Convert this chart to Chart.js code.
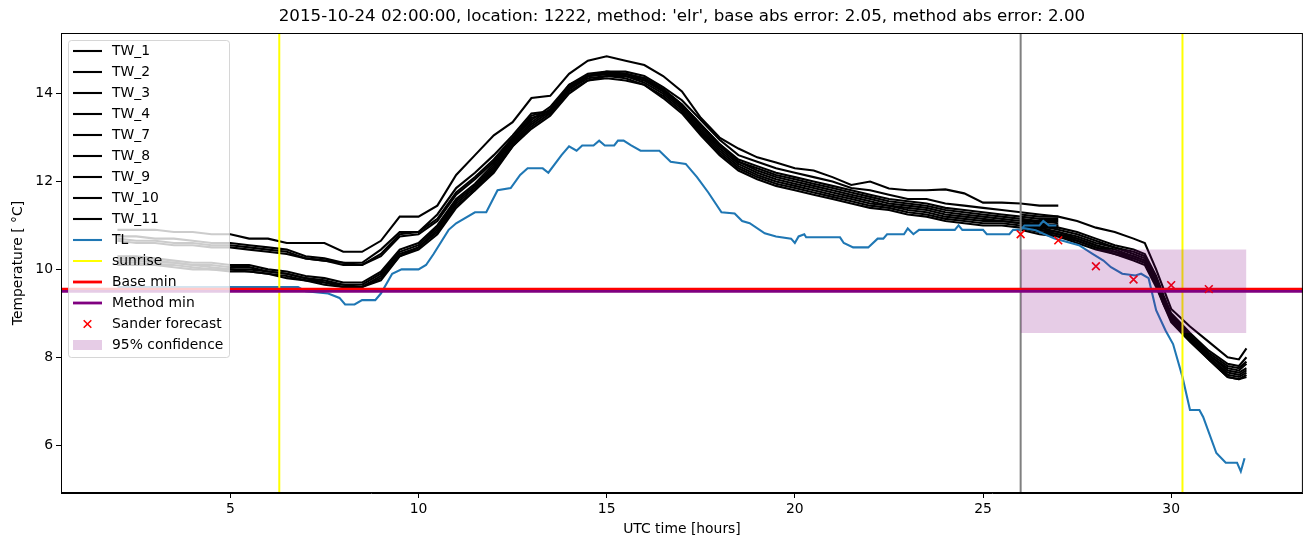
<!DOCTYPE html>
<html>
<head>
<meta charset="utf-8">
<script src="https://cdn.jsdelivr.net/npm/chart.js@4.4.0/dist/chart.umd.min.js"></script>
<style>
  html, body { margin: 0; padding: 0; background: #fff; }
  #wrap { width: 1310px; height: 547px; }
</style>
</head>
<body>
<div id="wrap"><canvas id="tempChart" width="1310" height="547"></canvas></div>
<script>
/* ---------- DATA ---------- */
const titleText = "2015-10-24 02:00:00, location: 1222, method: 'elr', base abs error: 2.05, method abs error: 2.00";

const histTimes = [2, 2.5, 3, 3.5, 4, 4.5, 5, 5.5, 6, 6.5, 7, 7.5, 8, 8.5, 9, 9.5, 10, 10.5, 11, 11.5,
  12, 12.5, 13, 13.5, 14, 14.5, 15, 15.5, 16, 16.5, 17, 17.5, 18, 18.5, 19, 19.5, 20, 20.5, 21, 21.5,
  22, 22.5, 23, 23.5, 24, 24.5, 25, 25.5, 26, 26.5, 27];
const fcTimes = [26, 26.5, 27, 27.5, 28, 28.5, 29, 29.3, 29.6, 29.8, 30, 30.5, 31, 31.5, 31.8, 32];

const tw1Hist = [10.75,10.75,10.7,10.7,10.65,10.6,10.6,10.55,10.5,10.45,
  10.3,10.25,10.15,10.15,10.45,10.85,10.85,11.25,11.85,12.2,
  12.6,13.05,13.55,13.6,14.2,14.45,14.5,14.5,14.4,14.15,
  13.85,13.4,12.95,12.6,12.45,12.3,12.2,12.1,12.0,11.85,
  11.8,11.7,11.6,11.6,11.5,11.45,11.4,11.35,11.3,11.25,11.2];
const tw1Fc = [11.15,11.05,10.95,10.85,10.7,10.55,10.45,10.35,9.85,9.4,9.0,8.55,8.15,7.85,7.8,8.0];

const tw2Hist = [10.3,10.3,10.25,10.2,10.15,10.15,10.1,10.1,10.0,9.95,
  9.85,9.8,9.7,9.7,9.95,10.45,10.6,11.0,11.6,11.95,
  12.4,12.95,13.4,13.7,14.2,14.4,14.45,14.45,14.35,14.1,
  13.75,13.3,12.85,12.45,12.25,12.1,12.0,11.9,11.8,11.7,
  11.6,11.5,11.45,11.4,11.3,11.25,11.2,11.15,11.1,11.1,11.05];
const tw2Fc = [11.0,10.9,10.85,10.7,10.55,10.45,10.3,10.2,9.7,9.3,8.9,8.45,8.05,7.7,7.65,7.75];

const tw3Hist = [10.9,10.9,10.9,10.85,10.85,10.8,10.8,10.7,10.7,10.6,
  10.6,10.6,10.4,10.4,10.65,11.2,11.2,11.45,12.15,12.6,
  13.05,13.35,13.9,13.95,14.45,14.75,14.85,14.75,14.65,14.4,
  14.05,13.45,13.0,12.75,12.55,12.43,12.3,12.25,12.1,11.92,
  12.0,11.84,11.8,11.8,11.82,11.73,11.52,11.52,11.5,11.45,11.45];
const tw3Fc = [11.25,11.2,11.2,11.1,10.95,10.85,10.7,10.6,10.0,9.55,9.1,8.7,8.35,8.0,7.95,8.2];

const tw4Hist = [10.25,10.25,10.2,10.15,10.1,10.1,10.05,10.05,9.95,9.9,
  9.8,9.75,9.65,9.65,9.9,10.4,10.55,10.95,11.55,11.9,
  12.35,12.9,13.35,13.65,14.15,14.4,14.45,14.4,14.3,14.05,
  13.7,13.2,12.75,12.4,12.2,12.05,11.95,11.85,11.75,11.65,
  11.55,11.45,11.4,11.35,11.25,11.2,11.15,11.1,11.05,11.05,11.0];
const tw4Fc = [11.0,10.9,10.8,10.7,10.55,10.4,10.3,10.2,9.7,9.25,8.9,8.45,8.0,7.65,7.6,7.7];

const tw7Hist = [10.7,10.65,10.65,10.6,10.6,10.55,10.55,10.5,10.45,10.4,
  10.25,10.2,10.15,10.1,10.35,10.8,10.85,11.15,11.75,12.1,
  12.5,13.0,13.5,13.6,14.15,14.4,14.5,14.45,14.35,14.1,
  13.75,13.3,12.85,12.5,12.35,12.2,12.1,12.0,11.9,11.8,
  11.7,11.6,11.55,11.5,11.4,11.35,11.3,11.25,11.2,11.15,11.15];
const tw7Fc = [11.1,11.0,10.9,10.8,10.65,10.5,10.4,10.3,9.8,9.35,8.95,8.5,8.1,7.8,7.75,7.9];

const tw8Hist = [10.2,10.2,10.15,10.15,10.1,10.05,10.0,10.0,9.95,9.9,
  9.8,9.7,9.65,9.6,9.85,10.35,10.5,10.9,11.5,11.85,
  12.3,12.85,13.3,13.6,14.1,14.35,14.4,14.4,14.25,14.0,
  13.65,13.15,12.7,12.35,12.15,12.0,11.9,11.8,11.7,11.6,
  11.5,11.45,11.35,11.3,11.2,11.15,11.1,11.1,11.05,11.0,11.0];
const tw8Fc = [10.95,10.85,10.8,10.65,10.5,10.4,10.25,10.15,9.65,9.25,8.85,8.4,8.0,7.6,7.55,7.65];

const tw9Hist = [10.65,10.6,10.6,10.55,10.55,10.5,10.5,10.45,10.4,10.35,
  10.25,10.2,10.1,10.1,10.3,10.75,10.8,11.1,11.7,12.05,
  12.45,12.95,13.45,13.55,14.1,14.4,14.45,14.45,14.3,14.05,
  13.7,13.25,12.8,12.45,12.3,12.15,12.05,11.95,11.85,11.75,
  11.65,11.55,11.5,11.45,11.35,11.3,11.25,11.2,11.15,11.1,11.1];
const tw9Fc = [11.05,10.95,10.85,10.75,10.6,10.5,10.35,10.25,9.75,9.3,8.95,8.5,8.05,7.75,7.7,7.85];

const tw10Hist = [10.15,10.15,10.1,10.1,10.05,10.0,10.0,9.95,9.9,9.85,
  9.75,9.7,9.6,9.6,9.8,10.3,10.5,10.85,11.45,11.8,
  12.25,12.8,13.25,13.55,14.05,14.3,14.4,14.35,14.2,13.95,
  13.6,13.1,12.65,12.3,12.1,11.95,11.85,11.75,11.65,11.55,
  11.45,11.4,11.3,11.25,11.15,11.1,11.05,11.05,11.0,11.0,10.95];
const tw10Fc = [10.95,10.85,10.75,10.65,10.5,10.35,10.25,10.15,9.65,9.2,8.85,8.4,7.95,7.55,7.5,7.6];

const tw11Hist = [10.1,10.1,10.1,10.05,10.0,10.0,9.95,9.95,9.9,9.8,
  9.75,9.65,9.6,9.6,9.75,10.3,10.45,10.8,11.4,11.8,
  12.2,12.8,13.2,13.5,14.0,14.3,14.35,14.3,14.2,13.9,
  13.55,13.05,12.6,12.25,12.05,11.9,11.8,11.7,11.6,11.5,
  11.4,11.35,11.25,11.2,11.1,11.05,11.0,11.0,10.95,10.95,10.95];
const tw11Fc = [10.9,10.8,10.75,10.6,10.45,10.35,10.2,10.1,9.6,9.2,8.8,8.35,7.95,7.55,7.5,7.55];

// TL observed: [time, value]
const tlHistory = [[2,9.6],[6.8,9.6],[7.0,9.5],[7.6,9.45],[7.9,9.35],[8.05,9.2],[8.3,9.2],[8.5,9.3],
  [8.85,9.3],[9.0,9.45],[9.3,9.9],[9.55,10.0],[10.0,10.0],[10.2,10.1],[10.4,10.35],[10.8,10.9],
  [11.0,11.05],[11.5,11.3],[11.8,11.3],[12.1,11.8],[12.45,11.85],[12.7,12.15],[12.9,12.3],[13.3,12.3],
  [13.45,12.2],[13.8,12.6],[14.0,12.8],[14.2,12.7],[14.35,12.82],[14.65,12.82],[14.8,12.93],[14.95,12.82],
  [15.2,12.82],[15.3,12.93],[15.45,12.93],[15.65,12.82],[15.9,12.7],[16.4,12.7],[16.7,12.45],[17.1,12.4],
  [17.4,12.1],[17.7,11.75],[18.05,11.3],[18.4,11.27],[18.6,11.1],[18.8,11.05],[19.2,10.82],[19.5,10.75],
  [19.9,10.7],[20.0,10.6],[20.1,10.75],[20.25,10.8],[20.3,10.73],[21.2,10.73],[21.3,10.6],[21.55,10.5],
  [21.95,10.5],[22.2,10.7],[22.35,10.7],[22.45,10.8],[22.9,10.8],[23.0,10.93],[23.15,10.8],[23.3,10.9],
  [24.25,10.9],[24.35,11.0],[24.45,10.9],[25.0,10.9],[25.1,10.8],[25.7,10.8],[25.8,10.9],[26.0,10.9],
  [26.1,11.0],[26.5,11.0],[26.6,11.1],[26.75,11.0],[26.95,11.0]];
const tlForecast = [[26,10.95],[26.4,10.89],[26.9,10.7],[27.55,10.55],[27.9,10.36],[28.2,10.2],[28.4,10.05],
  [28.7,9.9],[29.05,9.86],[29.2,9.9],[29.4,9.8],[29.6,9.07],[29.85,8.61],[30.05,8.3],[30.3,7.55],
  [30.5,6.8],[30.75,6.8],[30.85,6.64],[31.2,5.82],[31.45,5.6],[31.75,5.6],[31.85,5.4],[31.95,5.7]];

const sunriseTimes = [6.3, 30.3];
const nowTime = 26;
const baseMin = 9.55;
const methodMin = 9.5;
const sanderTimes = [26, 27, 28, 29, 30, 31];
const sanderValues = [10.8, 10.66, 10.07, 9.77, 9.64, 9.55];
const confTimes = [26, 32];
const confLow = 8.55;
const confHigh = 10.45;

const xTicks = [5, 10, 15, 20, 25, 30];
const yTicks = [6, 8, 10, 12, 14];
const xMin = 0.5, xMax = 33.5;
const yMin = 4.91, yMax = 15.38;

/* ---------- BUILD ---------- */
const FONT = "'DejaVu Sans', sans-serif";
const GAP = { x: 26.5, y: null };   // breaks the line between history and forecast

function tw(label, hist, fc) {
  const pts = histTimes.map((t, i) => ({ x: t, y: hist[i] }))
    .concat([GAP])
    .concat(fcTimes.map((t, i) => ({ x: t, y: fc[i] })));
  return { label, data: pts, borderColor: "#000000", borderWidth: 2.1, kind: "line" };
}

const datasets = [
  tw("TW_1", tw1Hist, tw1Fc),
  tw("TW_2", tw2Hist, tw2Fc),
  tw("TW_3", tw3Hist, tw3Fc),
  tw("TW_4", tw4Hist, tw4Fc),
  tw("TW_7", tw7Hist, tw7Fc),
  tw("TW_8", tw8Hist, tw8Fc),
  tw("TW_9", tw9Hist, tw9Fc),
  tw("TW_10", tw10Hist, tw10Fc),
  tw("TW_11", tw11Hist, tw11Fc),
  {
    label: "TL",
    data: tlHistory.map(p => ({ x: p[0], y: p[1] }))
      .concat([GAP])
      .concat(tlForecast.map(p => ({ x: p[0], y: p[1] }))),
    borderColor: "#1f77b4", borderWidth: 2.1, kind: "line"
  },
  {
    label: "sunrise",
    data: [{ x: sunriseTimes[0], y: yMin }, { x: sunriseTimes[0], y: yMax }],
    borderColor: "#ffff00", borderWidth: 2, kind: "line"
  },
  {
    label: "",
    data: [{ x: sunriseTimes[1], y: yMin }, { x: sunriseTimes[1], y: yMax }],
    borderColor: "#ffff00", borderWidth: 2
  },
  {
    label: "",
    data: [{ x: nowTime, y: yMin }, { x: nowTime, y: yMax }],
    borderColor: "#808080", borderWidth: 2
  },
  {
    label: "Base min",
    data: [{ x: xMin, y: baseMin }, { x: xMax, y: baseMin }],
    borderColor: "#ff0000", borderWidth: 2.8, kind: "line"
  },
  {
    label: "Method min",
    data: [{ x: xMin, y: methodMin }, { x: xMax, y: methodMin }],
    borderColor: "#800080", borderWidth: 2.8, kind: "line"
  },
  {
    label: "Sander forecast",
    data: sanderTimes.map((t, i) => ({ x: t, y: sanderValues[i] })),
    showLine: false, pointStyle: "crossRot", pointRadius: 5.5, pointBorderWidth: 1.6,
    pointBorderColor: "#ff0000", borderColor: "#ff0000", kind: "marker"
  },
  {
    label: "95% confidence",
    data: confTimes.map(t => ({ x: t, y: confHigh })),
    borderWidth: 0, borderColor: "rgba(0,0,0,0)",
    backgroundColor: "rgba(128,0,128,0.2)",
    fill: { value: confLow }, kind: "patch"
  }
];

// matplotlib draws later artists on top; chart.js draws low "order" last
datasets.forEach((d, i) => {
  d.order = datasets.length - i;
  if (d.showLine === undefined) d.showLine = true;
  if (d.pointRadius === undefined) d.pointRadius = 0;
  d.pointHoverRadius = 0;
  d.tension = 0;
  d.spanGaps = false;
});

/* ---------- PLUGIN: frame, title, labels, legend ---------- */
const decor = {
  id: "decor",
  afterDatasetsDraw(chart) {
    const { ctx, chartArea: a } = chart;
    ctx.save();

    // legend box
    const entries = chart.data.datasets.filter(d => d.label);
    const lx = a.left + 7, ly = a.top + 7, lw = 161, lh = 317, rowH = 21;
    ctx.beginPath();
    ctx.roundRect(lx + 0.5, ly + 0.5, lw, lh, 3);
    ctx.fillStyle = "rgba(255,255,255,0.8)";
    ctx.fill();
    ctx.strokeStyle = "rgba(204,204,204,0.8)";
    ctx.lineWidth = 1;
    ctx.stroke();

    ctx.font = "13.9px " + FONT;
    ctx.textBaseline = "middle";
    entries.forEach((d, i) => {
      const y = ly + 11 + i * rowH;
      const hx0 = lx + 5, hx1 = lx + 34;
      if (d.kind === "line") {
        ctx.beginPath();
        ctx.moveTo(hx0, y);
        ctx.lineTo(hx1, y);
        ctx.strokeStyle = d.borderColor;
        ctx.lineWidth = d.borderWidth;
        ctx.stroke();
      } else if (d.kind === "marker") {
        const cx = (hx0 + hx1) / 2, r = 3.8;
        ctx.beginPath();
        ctx.moveTo(cx - r, y - r); ctx.lineTo(cx + r, y + r);
        ctx.moveTo(cx - r, y + r); ctx.lineTo(cx + r, y - r);
        ctx.strokeStyle = d.pointBorderColor;
        ctx.lineWidth = 1.6;
        ctx.stroke();
      } else if (d.kind === "patch") {
        ctx.fillStyle = d.backgroundColor;
        ctx.fillRect(hx0, y - 5, hx1 - hx0, 10);
      }
      ctx.fillStyle = "#000";
      ctx.textAlign = "left";
      ctx.fillText(d.label, lx + 44, y);
    });
    ctx.restore();
  },
  afterDraw(chart) {
    const { ctx, chartArea: a } = chart;
    ctx.save();
    ctx.strokeStyle = "#000";
    ctx.lineWidth = 1;
    ctx.strokeRect(a.left + 0.5, a.top + 0.5, a.right - a.left - 1, a.bottom - a.top - 1);

    ctx.fillStyle = "#000";
    ctx.textAlign = "center";
    ctx.textBaseline = "middle";
    ctx.font = "16.7px " + FONT;
    ctx.fillText(titleText, (a.left + a.right) / 2, 17);

    ctx.font = "13.9px " + FONT;
    ctx.fillText("UTC time [hours]", (a.left + a.right) / 2, 529);

    ctx.translate(18, (a.top + a.bottom) / 2);
    ctx.rotate(-Math.PI / 2);
    ctx.fillText("Temperature [ \u00B0C]", 0, 0);
    ctx.restore();
  }
};

/* ---------- CHART ---------- */
const ctx = document.getElementById("tempChart").getContext("2d");
new Chart(ctx, {
  type: "scatter",
  data: { datasets },
  options: {
    responsive: false,
    animation: false,
    devicePixelRatio: 1,
    layout: { padding: { top: 33, right: 7, left: 0, bottom: 0 } },
    plugins: {
      legend: { display: false },
      title: { display: false },
      tooltip: { enabled: false }
    },
    scales: {
      x: {
        type: "linear",
        min: xMin,
        max: xMax,
        afterFit: s => { s.height = 54; },
        afterBuildTicks: s => { s.ticks = xTicks.map(v => ({ value: v })); },
        ticks: { color: "#000", padding: 3, font: { family: FONT, size: 13.9 }, maxRotation: 0 },
        grid: { drawOnChartArea: false, drawTicks: true, tickLength: 5, color: "#000" },
        border: { display: true, color: "#000", width: 1 }
      },
      y: {
        type: "linear",
        min: yMin,
        max: yMax,
        afterFit: s => { s.width = 61; },
        afterBuildTicks: s => { s.ticks = yTicks.map(v => ({ value: v })); },
        ticks: { color: "#000", padding: 3, font: { family: FONT, size: 13.9 } },
        grid: { drawOnChartArea: false, drawTicks: true, tickLength: 5, color: "#000" },
        border: { display: true, color: "#000", width: 1 }
      }
    }
  },
  plugins: [decor]
});
</script>
</body>
</html>
